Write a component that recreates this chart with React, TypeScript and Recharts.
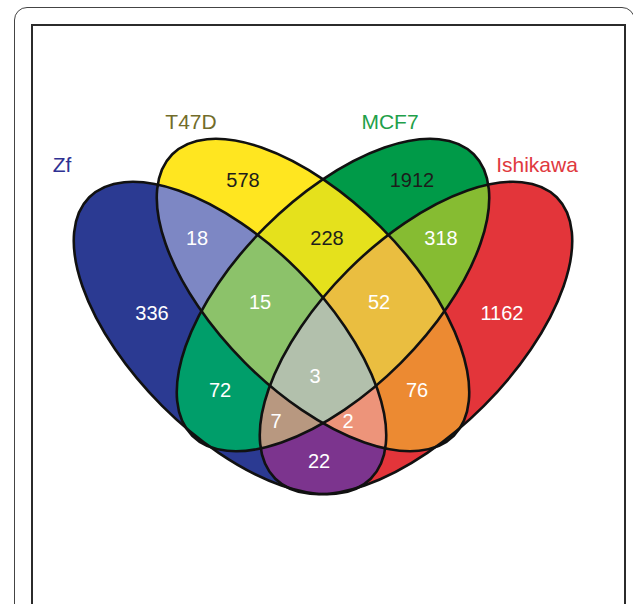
import { ScatterChart, Scatter, XAxis, YAxis } from "recharts";

const W = 633;
const H = 604;

// the four sets
const setNames = ["Zf", "T47D", "MCF7", "Ishikawa"];

// every region of the diagram and its count
const regionSets = [
  "Zf",
  "T47D",
  "MCF7",
  "Ishikawa",
  "Zf+T47D",
  "T47D+MCF7",
  "MCF7+Ishikawa",
  "Zf+MCF7",
  "T47D+Ishikawa",
  "Zf+Ishikawa",
  "Zf+T47D+MCF7",
  "T47D+MCF7+Ishikawa",
  "Zf+MCF7+Ishikawa",
  "Zf+T47D+Ishikawa",
  "Zf+T47D+MCF7+Ishikawa",
];
const regionCounts = [336, 578, 1912, 1162, 18, 228, 318, 72, 76, 22, 15, 52, 7, 2, 3];

// ---- layout (chart units = pixels, axes are 1:1) ----
const RX = 199;
const RY = 96;
const ellipseLayout: Record<string, { x: number; y: number; rot: number }> = {
  Zf: { x: 230, y: 338, rot: 45 },
  T47D: { x: 313, y: 295, rot: 45 },
  MCF7: { x: 333, y: 295, rot: -45 },
  Ishikawa: { x: 416, y: 338, rot: -45 },
};

const setLabelLayout: Record<string, { x: number; y: number; color: string }> = {
  Zf: { x: 62, y: 172, color: "#2e3192" },
  T47D: { x: 191, y: 129, color: "#726c2a" },
  MCF7: { x: 390, y: 129, color: "#1fa04a" },
  Ishikawa: { x: 537, y: 172, color: "#e0393e" },
};

const regionLayout: Record<string, { x: number; y: number }> = {
  Zf: { x: 152, y: 313 },
  T47D: { x: 243, y: 180 },
  MCF7: { x: 412, y: 180 },
  Ishikawa: { x: 502, y: 313 },
  "Zf+T47D": { x: 197, y: 238 },
  "T47D+MCF7": { x: 327, y: 238 },
  "MCF7+Ishikawa": { x: 441, y: 238 },
  "Zf+MCF7": { x: 220, y: 390 },
  "T47D+Ishikawa": { x: 417, y: 390 },
  "Zf+Ishikawa": { x: 319, y: 461 },
  "Zf+T47D+MCF7": { x: 260, y: 302 },
  "T47D+MCF7+Ishikawa": { x: 379, y: 302 },
  "Zf+MCF7+Ishikawa": { x: 276, y: 421 },
  "Zf+T47D+Ishikawa": { x: 348, y: 421 },
  "Zf+T47D+MCF7+Ishikawa": { x: 315, y: 376 },
};

const regionColors: Record<string, string> = {
  Zf: "#2b3a92",
  T47D: "#ffe620",
  MCF7: "#009a48",
  Ishikawa: "#e3353a",
  "Zf+T47D": "#7d87c4",
  "T47D+MCF7": "#e5e11c",
  "MCF7+Ishikawa": "#86bc32",
  "Zf+MCF7": "#009e6a",
  "T47D+Ishikawa": "#ec8a32",
  "Zf+Ishikawa": "#7c348e",
  "Zf+T47D+MCF7": "#8cc26a",
  "T47D+MCF7+Ishikawa": "#eabe40",
  "Zf+MCF7+Ishikawa": "#b89880",
  "Zf+T47D+Ishikawa": "#ed947a",
  "Zf+T47D+MCF7+Ishikawa": "#b2c0ac",
};

const darkText = ["T47D", "MCF7", "T47D+MCF7"];
const FONT = "'Liberation Sans', Arial, Helvetica, sans-serif";

const setData = setNames.map((name, i) => ({
  name,
  index: i,
  x: ellipseLayout[name].x,
  y: ellipseLayout[name].y,
  rot: ellipseLayout[name].rot,
}));

// paint regions from fewest to most sets so overlaps win
const regionData = regionSets
  .map((key, i) => ({
    key,
    count: regionCounts[i],
    members: key.split("+").map((s) => setNames.indexOf(s)),
    x: regionLayout[key].x,
    y: regionLayout[key].y,
  }))
  .sort((a, b) => a.members.length - b.members.length);

const setLabelData = setNames.map((name) => ({
  name,
  x: setLabelLayout[name].x,
  y: setLabelLayout[name].y,
}));

function ClipShape(props: any) {
  const { cx, cy, payload } = props;
  return (
    <defs>
      <clipPath id={`venn-clip-${payload.index}`}>
        <ellipse cx={cx} cy={cy} rx={RX} ry={RY} transform={`rotate(${payload.rot} ${cx} ${cy})`} />
      </clipPath>
    </defs>
  );
}

function FillShape(props: any) {
  const { payload } = props;
  let node = <rect x={0} y={0} width={W} height={H} fill={regionColors[payload.key]} />;
  for (const m of payload.members) {
    node = <g clipPath={`url(#venn-clip-${m})`}>{node}</g>;
  }
  return node;
}

function OutlineShape(props: any) {
  const { cx, cy, payload } = props;
  return (
    <ellipse
      cx={cx}
      cy={cy}
      rx={RX}
      ry={RY}
      transform={`rotate(${payload.rot} ${cx} ${cy})`}
      fill="none"
      stroke="#111"
      strokeWidth={2.6}
    />
  );
}

function CountShape(props: any) {
  const { cx, cy, payload } = props;
  return (
    <text
      x={cx}
      y={cy + 7}
      textAnchor="middle"
      fontFamily={FONT}
      fontSize={20}
      fill={darkText.includes(payload.key) ? "#1d1d1b" : "#ffffff"}
    >
      {payload.count}
    </text>
  );
}

function SetLabelShape(props: any) {
  const { cx, cy, payload } = props;
  return (
    <text x={cx} y={cy} textAnchor="middle" fontFamily={FONT} fontSize={21} fill={setLabelLayout[payload.name].color}>
      {payload.name}
    </text>
  );
}

export default function App() {
  return (
    <div style={{ position: "absolute", left: 0, top: 0, width: W, height: H, overflow: "hidden", background: "#fff" }}>
      <div
        style={{
          position: "absolute",
          left: 13.5,
          top: 6.5,
          width: 621,
          height: 700,
          border: "1.5px solid #444",
          borderRadius: 13,
          boxSizing: "border-box",
        }}
      />
      <div
        style={{
          position: "absolute",
          left: 31,
          top: 23.5,
          width: 594.5,
          height: 700,
          border: "2px solid #2b2b2b",
          boxSizing: "border-box",
        }}
      />
      <div style={{ position: "absolute", left: 0, top: 0 }}>
        <ScatterChart width={W} height={H} margin={{ top: 0, right: 0, bottom: 0, left: 0 }}>
          <XAxis type="number" dataKey="x" domain={[0, W]} allowDataOverflow hide />
          <YAxis type="number" dataKey="y" domain={[0, H]} allowDataOverflow reversed hide />
          <Scatter data={setData} shape={<ClipShape />} isAnimationActive={false} />
          <Scatter data={regionData} shape={<FillShape />} isAnimationActive={false} />
          <Scatter data={setData} shape={<OutlineShape />} isAnimationActive={false} />
          <Scatter data={regionData} shape={<CountShape />} isAnimationActive={false} />
          <Scatter data={setLabelData} shape={<SetLabelShape />} isAnimationActive={false} />
        </ScatterChart>
      </div>
    </div>
  );
}
